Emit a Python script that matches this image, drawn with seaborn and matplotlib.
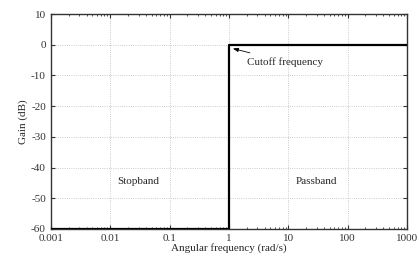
import matplotlib
matplotlib.use("Agg")
import matplotlib.pyplot as plt
import matplotlib.ticker as mticker
import seaborn as sns
import pandas as pd

# ideal low-pass response
freq = [0.001, 1, 1, 1000]
gain = [-60, -60, 0, 0]
xticks = [0.001, 0.01, 0.1, 1, 10, 100, 1000]
xticklabels = ["0.001", "0.01", "0.1", "1", "10", "100", "1000"]
yticks = [-60, -50, -40, -30, -20, -10, 0, 10]

sns.set_style("ticks")
plt.rcParams['font.family'] = ['Liberation Serif', 'DejaVu Serif']
plt.rcParams['axes.unicode_minus'] = False

df = pd.DataFrame({"freq": freq, "gain": gain})

fig = plt.figure(figsize=(4.2, 2.61), dpi=100)
ax = fig.add_axes([0.121, 0.123, 0.848, 0.823])
sns.lineplot(data=df, x="freq", y="gain", sort=False, estimator=None,
             color="black", linewidth=1.6, ax=ax, zorder=3)

ax.set_xscale("log")
ax.set_xlim(0.001, 1000)
ax.set_ylim(-60, 10)
ax.set_xticks(xticks)
ax.set_xticklabels(xticklabels)
ax.set_yticks(yticks)
ax.xaxis.set_minor_locator(mticker.LogLocator(base=10, subs=range(2, 10), numticks=20))
ax.xaxis.set_minor_formatter(mticker.NullFormatter())
ax.tick_params(which="both", direction="in", top=True, right=True, labelsize=8, colors="#333333")
ax.tick_params(which="major", length=3)
ax.tick_params(which="minor", length=1.5)
ax.grid(True, which="major", linestyle=":", color="#bbbbbb", linewidth=0.6)
for s in ax.spines.values():
    s.set_linewidth(1.0)
    s.set_color("#333333")

ax.set_xlabel("Angular frequency (rad/s)", fontsize=8, labelpad=0)
ax.set_ylabel("Gain (dB)", fontsize=8, labelpad=2)

ax.annotate("Cutoff frequency", xy=(1.05, -1), xytext=(2.0, -5.5), fontsize=8,
            va="center", ha="left",
            arrowprops=dict(arrowstyle="-|>,head_length=0.4,head_width=0.15",
                            color="black", lw=0.6))
ax.text(0.03, -44.5, "Stopband", fontsize=8, ha="center", va="center")
ax.text(30, -44.5, "Passband", fontsize=8, ha="center", va="center")

fig.savefig("out.png", dpi=100)
